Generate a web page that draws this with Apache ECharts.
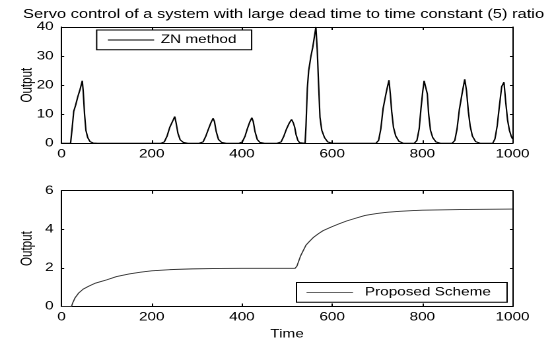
<!DOCTYPE html>
<html>
<head>
<meta charset="utf-8">
<script src="https://cdn.jsdelivr.net/npm/echarts@6/dist/echarts.min.js"></script>
<style>
  html, body { margin: 0; padding: 0; background: #fff; }
  /* the source figure is stretched horizontally, so draw narrow and widen */
  #main { width: 418px; height: 342px; transform: scaleX(1.3206); transform-origin: 0 0; }
</style>
</head>
<body>
<div id="main"></div>
<script>
// ZN method response (top plot)
const timeZN = [0, 20, 22, 24, 27, 31, 36, 41, 46, 48, 51, 54, 58, 63, 70, 80,
  220, 228, 234, 240, 246, 251, 254, 258, 263, 270, 280,
  305, 314, 320, 326, 331, 336, 339, 343, 348, 355, 365,
  393, 401, 407, 412, 417, 422, 425, 429, 434, 440, 450,
  478, 487, 493, 499, 505, 510, 514, 517, 520, 524, 528, 532,
  540, 542, 545, 548, 553, 557, 561, 564, 567, 570, 573, 577, 583, 590, 600,
  697, 703, 708, 713, 718, 722, 726, 729, 732, 736, 741, 748, 758,
  782, 788, 793, 797, 801, 804, 808, 811, 814, 818, 823, 830, 840,
  866, 872, 877, 882, 888, 894, 898, 902, 906, 911, 918, 928,
  956, 961, 966, 971, 976, 981, 985, 989, 993, 997, 1000];
const outputZN = [0, 0, 0.5, 6, 11, 13, 16, 18.5, 21.5, 18, 10, 4.5, 2, 0.6, 0.1, 0,
  0, 0.5, 2.5, 5.5, 7.5, 9.2, 7, 3.5, 1.2, 0.3, 0,
  0, 0.5, 2.5, 5, 7, 8.6, 7.5, 4, 1.3, 0.3, 0,
  0, 0.5, 2.5, 5, 7.2, 8.8, 7.5, 4, 1.3, 0.3, 0,
  0, 0.5, 2.5, 5, 7, 8.2, 7, 5.5, 3, 1, 0.2, 0,
  0, 6, 19, 25, 30, 33, 37, 40, 32, 20, 9, 4.5, 2, 0.5, 0,
  0, 1, 5, 12, 16, 19, 21.7, 17, 11, 5.5, 2.5, 0.7, 0,
  0, 1, 5, 12, 18, 21.5, 21.2, 17, 10, 4.5, 2, 0.5, 0,
  0, 1, 5, 11.5, 17, 22, 18, 11, 6, 2.5, 0.6, 0,
  0, 1.5, 6, 13, 19.5, 21, 14, 8, 4.5, 2.5, 1.5];

// Proposed scheme response (bottom plot)
const timePS = [0, 22, 25, 30, 38, 48, 60, 75, 88, 100, 122, 150, 175, 200, 240, 290, 350, 400, 518,
  522, 530, 542, 550, 558, 570, 580, 600, 615, 632, 650, 673, 700, 721, 750, 780, 800, 850, 900, 1000];
const outputPS = [0, 0, 0.2, 0.45, 0.7, 0.9, 1.05, 1.21, 1.3, 1.38, 1.55, 1.69, 1.78, 1.85, 1.91, 1.95, 1.97, 1.98, 1.98,
  2.1, 2.62, 3.18, 3.38, 3.57, 3.78, 3.93, 4.14, 4.28, 4.43, 4.56, 4.72, 4.82, 4.88, 4.93, 4.97, 4.99, 5.01, 5.03, 5.05];

const timeTicks = [0, 200, 400, 600, 800, 1000];
const znTicks = [0, 10, 20, 30, 40];
const psTicks = [0, 2, 4, 6];

const FONT = 'Liberation Sans, Arial, sans-serif';
const zip = (xs, ys) => xs.map((x, i) => [x, ys[i]]);
const plain = v => String(v);

function xAx(grid, pos, labels, name) {
  return {
    type: 'value', gridIndex: grid, position: pos,
    min: timeTicks[0], max: timeTicks[timeTicks.length - 1], interval: timeTicks[1] - timeTicks[0],
    name: name || '', nameLocation: 'middle', nameGap: 22, nameMoveOverlap: false,
    nameTextStyle: { color: '#000', fontSize: 11.6, fontFamily: FONT },
    axisLine: { show: true, onZero: false, lineStyle: { color: '#000', width: 1 } },
    axisTick: { show: true, inside: true, length: 3, lineStyle: { color: '#000' } },
    axisLabel: { show: labels, color: '#000', fontSize: 11.6, fontFamily: FONT, margin: 5, formatter: plain },
    splitLine: { show: false }
  };
}
function yAx(grid, pos, ticks, labels, name) {
  return {
    type: 'value', gridIndex: grid, position: pos,
    min: ticks[0], max: ticks[ticks.length - 1], interval: ticks[1] - ticks[0],
    name: name || '', nameLocation: 'middle', nameGap: 20, nameMoveOverlap: false,
    nameTextStyle: { color: '#000', fontSize: 11.6, fontFamily: FONT },
    axisLine: { show: true, onZero: false, lineStyle: { color: '#000', width: 1 } },
    axisTick: { show: true, inside: true, length: 2, lineStyle: { color: '#000' } },
    axisLabel: { show: labels, color: '#000', fontSize: 11.6, fontFamily: FONT, margin: 6, formatter: plain },
    splitLine: { show: false }
  };
}

const chart = echarts.init(document.getElementById('main'), null, { devicePixelRatio: 2 });
chart.setOption({
  animation: false,
  backgroundColor: '#fff',
  title: {
    text: 'Servo control of a system with large dead time to time constant (5) ratio',
    left: 17.4, top: 8, padding: 0,
    textStyle: { color: '#000', fontSize: 12.5, fontWeight: 'normal', fontFamily: FONT }
  },
  grid: [
    { left: 46.6, top: 27, width: 341.5, height: 116.3 },
    { left: 46.6, top: 190.7, width: 341.5, height: 115.8 }
  ],
  legend: [
    {
      data: ['ZN method'], left: 73.2, top: 30, padding: [4, 11.5, 3.7, 8.5],
      icon: 'rect', itemWidth: 35, itemHeight: 1, borderColor: '#000', borderWidth: 1, backgroundColor: '#fff',
      textStyle: { color: '#000', fontSize: 11.6, fontFamily: FONT }
    },
    {
      data: ['Proposed Scheme'], left: 224.5, top: 282.5, padding: [4, 12.3, 3.7, 7.6],
      icon: 'rect', itemWidth: 35.2, itemHeight: 0.8, borderColor: '#000', borderWidth: 1, backgroundColor: '#fff',
      textStyle: { color: '#000', fontSize: 11.6, fontFamily: FONT, padding: [0, 0, 0, 4] }
    }
  ],
  xAxis: [
    xAx(0, 'bottom', true),
    xAx(0, 'top', false),
    xAx(1, 'bottom', true, 'Time'),
    xAx(1, 'top', false)
  ],
  yAxis: [
    yAx(0, 'left', znTicks, true, 'Output'),
    yAx(0, 'right', znTicks, false),
    yAx(1, 'left', psTicks, true, 'Output'),
    yAx(1, 'right', psTicks, false)
  ],
  series: [
    {
      name: 'ZN method', type: 'line', xAxisIndex: 0, yAxisIndex: 0,
      data: zip(timeZN, outputZN), symbol: 'none', showSymbol: false,
      lineStyle: { color: '#000', width: 1.1 }, itemStyle: { color: '#000' }
    },
    {
      name: 'Proposed Scheme', type: 'line', xAxisIndex: 2, yAxisIndex: 2,
      data: zip(timePS, outputPS), symbol: 'none', showSymbol: false,
      lineStyle: { color: '#333', width: 0.9 }, itemStyle: { color: '#333' }
    }
  ]
});
</script>
</body>
</html>
